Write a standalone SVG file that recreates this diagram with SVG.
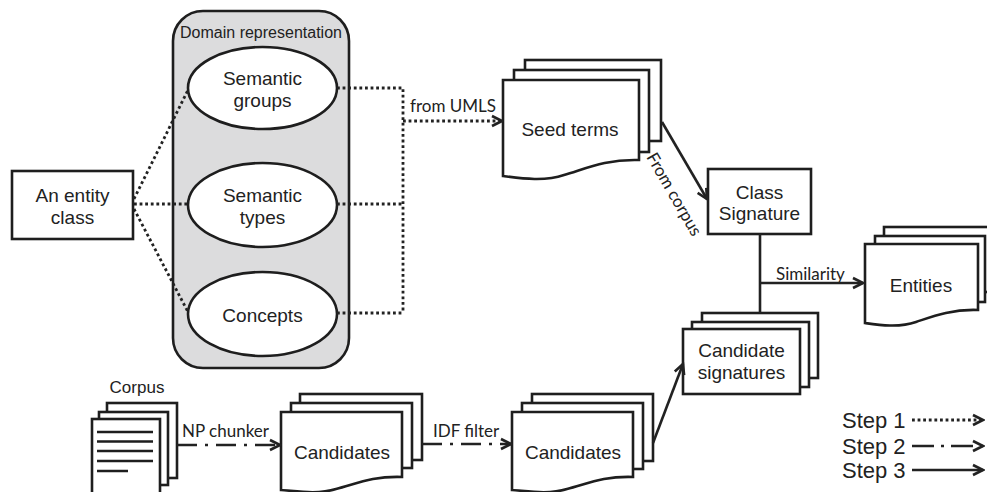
<svg xmlns="http://www.w3.org/2000/svg" width="987" height="492" viewBox="0 0 987 492">
<style>
.shape{fill:#fff;stroke:#1e1e1e;stroke-width:2.6}
.lbl{font-family:"Liberation Sans",Arial,sans-serif;font-size:19px;fill:#222;text-anchor:middle}
.elbl{font-family:Lato,"Liberation Sans",sans-serif;font-size:17px;fill:#222}
.dot{fill:none;stroke:#222;stroke-width:2.8;stroke-dasharray:2.8 2.8}
.dd{fill:none;stroke:#222;stroke-width:2.6;stroke-dasharray:20 8 3 8}
.sol{fill:none;stroke:#222;stroke-width:2.6}
.arr{marker-end:url(#ah)}
</style>
<defs>
<marker id="ah" viewBox="0 0 14 14" refX="12" refY="7" markerWidth="14" markerHeight="14" markerUnits="userSpaceOnUse" orient="auto">
<path d="M2,2 L12,7 L2,12" fill="none" stroke="#222" stroke-width="2.6" stroke-dasharray="none"/>
</marker>
</defs>

<g id="domain">
<rect x="173" y="11" width="176" height="357" rx="30" fill="#dcdcdd" stroke="#1e1e1e" stroke-width="2.6"/>
<text x="261" y="38" style="font-family:'Liberation Sans',Arial,sans-serif;font-size:16px;fill:#222;text-anchor:middle">Domain representation</text>
</g>
<g id="semantic-groups">
<ellipse class="shape" cx="262.5" cy="88" rx="74.5" ry="41"/>
<text class="lbl" x="262.5" y="85">Semantic</text>
<text class="lbl" x="262.5" y="107">groups</text>
</g>
<g id="semantic-types">
<ellipse class="shape" cx="262.5" cy="205" rx="74.5" ry="42"/>
<text class="lbl" x="262.5" y="202">Semantic</text>
<text class="lbl" x="262.5" y="224">types</text>
</g>
<g id="concepts">
<ellipse class="shape" cx="262.5" cy="314" rx="74.5" ry="42"/>
<text class="lbl" x="262.5" y="322">Concepts</text>
</g>
<g id="entity-class">
<rect class="shape" x="12" y="171" width="121" height="68"/>
<text class="lbl" x="72.5" y="202">An entity</text>
<text class="lbl" x="72.5" y="224">class</text>
</g>
<g id="seed-terms">
<rect class="shape" x="525" y="60" width="136" height="81"/>
<rect class="shape" x="514" y="70" width="135" height="82"/>
<path class="shape" d="M503,80 H639 V160 C605,159 585,169 564,175 C544,182 519,178 503,176 Z"/>
<text class="lbl" x="570" y="136">Seed terms</text>
</g>
<g id="class-signature">
<rect class="shape" x="708" y="169" width="103" height="65"/>
<text class="lbl" x="759.5" y="199">Class</text>
<text class="lbl" x="759.5" y="220">Signature</text>
</g>
<g id="entities">
<rect class="shape" x="884" y="227" width="112" height="65"/>
<rect class="shape" x="875" y="236" width="110" height="66"/>
<path class="shape" d="M865,244 H978 V310 C950,309 931,317 916,322 C899,328 879,325 865,323 Z"/>
<text class="lbl" x="921" y="292">Entities</text>
</g>
<g id="candidate-signatures">
<rect class="shape" x="702" y="313" width="116" height="65"/>
<rect class="shape" x="692" y="322" width="117" height="65"/>
<rect class="shape" x="683" y="329" width="117" height="65"/>
<text class="lbl" x="741.5" y="357">Candidate</text>
<text class="lbl" x="741.5" y="379">signatures</text>
</g>
<g id="corpus">
<text x="137" y="393" style="font-family:'Liberation Sans',Arial,sans-serif;font-size:17px;fill:#222;text-anchor:middle">Corpus</text>
<rect class="shape" x="107" y="403" width="70" height="75"/>
<rect class="shape" x="99" y="412" width="69" height="73"/>
<rect class="shape" x="92" y="419" width="68" height="85"/>
<path d="M97,432 H153 M97,441.5 H153 M97,451 H153 M97,461 H153 M97,471 H128" stroke="#1e1e1e" stroke-width="2.4" fill="none"/>
</g>
<g id="candidates-1">
<rect class="shape" x="300" y="394" width="122" height="66"/>
<rect class="shape" x="291" y="403" width="121" height="65"/>
<path class="shape" d="M281,412 H402 V477 C372,476 356,484 336,489 C317,495 296,491 281,490 Z"/>
<text class="lbl" x="342" y="459">Candidates</text>
</g>
<g id="candidates-2">
<rect class="shape" x="532" y="394" width="121" height="67"/>
<rect class="shape" x="522" y="403" width="121" height="66"/>
<path class="shape" d="M512,412 H633 V477 C603,476 587,484 567,489 C548,495 527,491 512,490 Z"/>
<text class="lbl" x="573" y="459">Candidates</text>
</g>

<g id="connectors">
<path class="dot" d="M134,199 L188,90"/>
<path class="dot" d="M134,204 H188"/>
<path class="dot" d="M134,209 L188,312"/>
<path class="dot" d="M337,88 H403 V313 M337,204 H403 M337,313 H403"/>
<path class="dot arr" d="M403,121 H502"/>
<path class="sol arr" d="M662,122 L707,199"/>
<path class="sol" d="M760,234 V313"/>
<path class="sol arr" d="M760,283 H863"/>
<path class="sol arr" d="M653,443 L683,364"/>
<path class="dd arr" d="M177,445 H280"/>
<path class="dd arr" d="M422,444 H511"/>
<text class="elbl" x="410" y="112">from UMLS</text>
<text class="elbl" x="182" y="437">NP chunker</text>
<text class="elbl" x="433" y="437">IDF filter</text>
<text class="elbl" x="776" y="280">Similarity</text>
<text class="elbl" x="646" y="157" transform="rotate(60 646 157)">From corpus</text>
</g>

<g id="legend">
<text x="842" y="428" style="font-family:'Liberation Sans',Arial,sans-serif;font-size:22px;fill:#222">Step 1</text>
<text x="842" y="454" style="font-family:'Liberation Sans',Arial,sans-serif;font-size:22px;fill:#222">Step 2</text>
<text x="842" y="478" style="font-family:'Liberation Sans',Arial,sans-serif;font-size:22px;fill:#222">Step 3</text>
<path class="dot arr" d="M912,420 H983"/>
<path class="dd arr" d="M912,446 H983" style="stroke-dasharray:22 7 3 7"/>
<path class="sol arr" d="M912,470 H983"/>
</g>
</svg>
